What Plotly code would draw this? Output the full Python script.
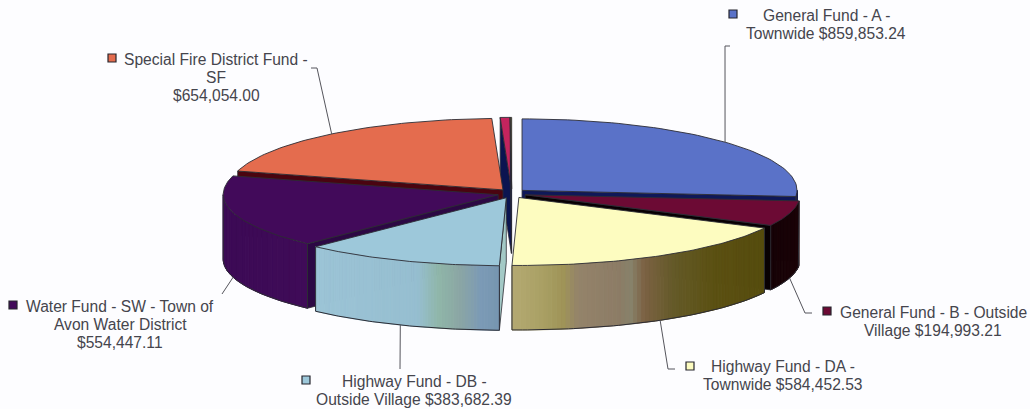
import math
import plotly.graph_objects as go

# Fund balances, clockwise from twelve o'clock
funds = ["General Fund - A", "General Fund - B", "Highway Fund - DA", "Highway Fund - DB",
         "Water Fund - SW", "Special Fire District Fund - SF", "Other funds", "Other funds 2"]
values = [859853.24, 194993.21, 584452.53, 383682.39, 554447.11, 654054.00, 18500.00, 2600.00]

top_colors = ["#5a72c8", "#6c0a34", "#fdfcc0", "#9dc8da", "#420a5a", "#e46c4e", "#c4245e", "#8a7a30"]
wall_stops = [
    [(0, "#101a60"), (1, "#101a60")],
    [(0, "#170307"), (1, "#1a0307")],
    [(0, "#b4a972"), (.12, "#a9a064"), (.2, "#9f9458"), (.26, "#94836a"), (.42, "#8c7c66"),
     (.47, "#87826a"), (.52, "#7c6244"), (.64, "#645a28"), (.8, "#5b5012"), (1, "#564c0e")],
    [(0, "#9cc4d6"), (.55, "#96bed0"), (.67, "#8fb6a8"), (.78, "#8ba6a4"), (.9, "#7b9ab6"), (1, "#7796b0")],
    [(0, "#3c0a55"), (1, "#3f0b58")],
    [(0, "#8a3020"), (1, "#8a3020")],
    [(0, "#7a1238"), (1, "#7a1238")],
    [(0, "#5a5020"), (1, "#5a5020")],
]
# Radial cut faces: colour of the start side and of the end side of each slice
start_faces = ["#101a60", "#0a0004", "#6e6630", "#a3c9c6", "#2c0844", "#4a0410", "#0b1450", "#0b1450"]
end_faces = ["#0f1858", "#080003", "#6e6630", "#7896b0", "#2c0844", "#4a0410", "#0b1450", "#0b1450"]

# Slices are painted back to front
paint_order = [6, 7, 5, 0, 1, 4, 2, 3]

# text lines, centre x, first line y, key x, key y, slice, leader tail
labels = [
    (["General Fund - A -", "Townwide $859,853.24"], 826, 15, 733, 14, 0, [(725, 46), (730, 46)]),
    (["General Fund - B - Outside", "Village $194,993.21"], 933, 312, 827, 311, 1, [(805, 313), (812, 313)]),
    (["Highway Fund - DA -", "Townwide $584,452.53"], 783, 366, 690, 366, 2, [(668, 369), (675, 369)]),
    (["Highway Fund - DB -", "Outside Village $383,682.39"], 414, 381, 306, 380, 3, [(400, 369)]),
    (["Water Fund - SW - Town of", "Avon Water District", "$554,447.11"], 120, 306, 13, 305, 4, [(222, 294)]),
    (["Special Fire District Fund -", "SF", "$654,054.00"], 216, 59, 112, 58, 5, [(317, 68), (311, 68)]),
]
LINE_STEP = 18

CX, CY = 511.7, 193.5
RX, RY_BACK, RY_FRONT = 275.0, 71.5, 68.0
DEPTH = 64.5
EXPLODE = 14.0
TILT = 0.33
OUTLINE = "#2c2c34"

total = sum(values)
spans = []
acc = 0.0
for v in values:
    spans.append((acc, acc + v / total * 360.0))
    acc += v / total * 360.0


def apex(i):
    a = math.radians(sum(spans[i]) / 2)
    return CX + EXPLODE * math.sin(a), CY - EXPLODE * TILT * math.cos(a)


def rim(i, deg, drop=0.0):
    ax, ay = apex(i)
    a = math.radians(deg)
    c = math.cos(a)
    return ax + RX * math.sin(a), ay - (RY_BACK if c > 0 else RY_FRONT) * c + drop


def arc(i, a0, a1, drop=0.0, n=60):
    return [rim(i, a0 + (a1 - a0) * k / n, drop) for k in range(n + 1)]


def hex_rgb(h):
    return tuple(int(h[p:p + 2], 16) for p in (1, 3, 5))


def blend(stops, f):
    for (f0, c0), (f1, c1) in zip(stops, stops[1:]):
        if f <= f1:
            t = 0 if f1 == f0 else (f - f0) / (f1 - f0)
            a, b = hex_rgb(c0), hex_rgb(c1)
            return "rgb(%d,%d,%d)" % tuple(round(a[j] + (b[j] - a[j]) * t) for j in range(3))
    return stops[-1][1]


fig = go.Figure()


def poly(points, fill, line=None, width=1.0):
    xs = [p[0] for p in points] + [points[0][0]]
    ys = [p[1] for p in points] + [points[0][1]]
    fig.add_trace(go.Scatter(x=xs, y=ys, mode="lines", fill="toself", fillcolor=fill,
                             line=dict(color=line or fill, width=width),
                             hoverinfo="skip", showlegend=False))


def path(points, color=OUTLINE, width=1.0):
    fig.add_trace(go.Scatter(x=[p[0] for p in points], y=[p[1] for p in points], mode="lines",
                             line=dict(color=color, width=width), hoverinfo="skip", showlegend=False))


def draw_face(i, deg, color):
    ap = apex(i)
    r = rim(i, deg)
    poly([ap, r, (r[0], r[1] + DEPTH), (ap[0], ap[1] + DEPTH)], color, OUTLINE, 0.8)


for i in paint_order:
    a0, a1 = spans[i]
    if math.sin(math.radians(a0)) < 0:
        draw_face(i, a0, start_faces[i])
    if math.sin(math.radians(a1)) > 0:
        draw_face(i, a1, end_faces[i])

    # Outer wall: only the part of the rim that faces the viewer
    w0, w1 = max(a0, 90.0), min(a1, 270.0)
    if w1 > w0:
        xs = [p[0] for p in arc(i, w0, w1)]
        xmin, xmax = min(xs), max(xs)
        n = 70 if len(wall_stops[i]) > 2 else 24
        for k in range(n):
            b0 = w0 + (w1 - w0) * k / n
            b1 = w0 + (w1 - w0) * (k + 1) / n
            seg = arc(i, b0, b1, 0, 2) + arc(i, b1, b0, DEPTH, 2)
            xm = (rim(i, b0)[0] + rim(i, b1)[0]) / 2
            poly(seg, blend(wall_stops[i], (xm - xmin) / (xmax - xmin)))
        low = arc(i, w0, w1, DEPTH)
        path([rim(i, w0)] + low + [rim(i, w1)], OUTLINE, 1.0)

    poly([apex(i)] + arc(i, a0, a1), top_colors[i], OUTLINE, 0.9)

# Leader lines run from each slice's rim at its mid angle to the label
for lines, tx, ty, kx, ky, i, tail in labels:
    mid = sum(spans[i]) / 2
    drop = DEPTH if 90 < mid < 270 else 0.0
    path([rim(i, mid, drop)] + tail, "#55555c", 1.0)
    for n, line in enumerate(lines):
        fig.add_annotation(x=tx, y=ty + n * LINE_STEP, text=line, showarrow=False,
                           xanchor="center", yanchor="middle", align="center",
                           font=dict(family="Liberation Sans", size=15.6, color="#45454d"))
    fig.add_trace(go.Scatter(x=[kx], y=[ky], mode="markers", hoverinfo="skip", showlegend=False,
                             marker=dict(symbol="square", size=8, color=top_colors[i],
                                         line=dict(color="#26262e", width=1.2))))

fig.update_layout(width=1030, height=409, margin=dict(l=0, r=0, t=0, b=0),
                  paper_bgcolor="#fdfdff", plot_bgcolor="#fdfdff",
                  xaxis=dict(range=[0, 1030], visible=False, fixedrange=True),
                  yaxis=dict(range=[409, 0], visible=False, fixedrange=True))
fig.write_html("out.html", config={"displayModeBar": False})
